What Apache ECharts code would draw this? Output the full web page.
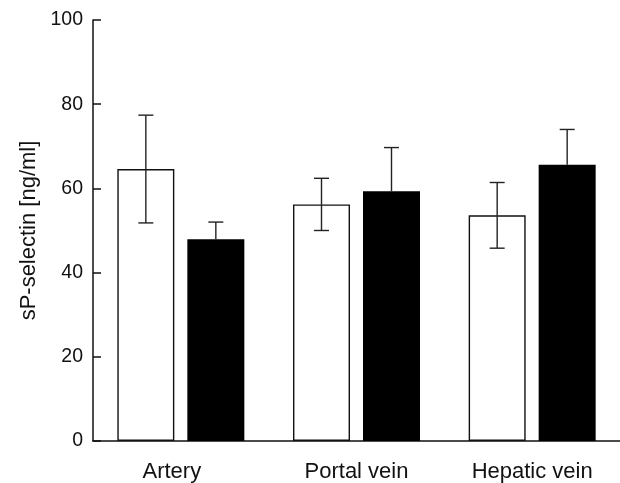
<!DOCTYPE html>
<html>
<head>
<meta charset="utf-8">
<script src="https://cdn.jsdelivr.net/npm/echarts@6/dist/echarts.min.js"></script>
<style>html,body{margin:0;padding:0;background:#fff}#c{width:620px;height:483px}</style>
</head>
<body>
<div id="c"></div>
<script>
var categories = ['Artery', 'Portal vein', 'Hepatic vein'];
var openValues = [64.6, 56.2, 53.6];
var openSD = [12.8, 6.2, 7.8];
var filledValues = [47.9, 59.3, 65.6];
var filledSD = [4.1, 10.4, 8.4];
var yTicks = [0, 20, 40, 60, 80, 100];

var BAR_W = 57, GAP = 13, CAP = 15;
var OFFSET = (BAR_W + GAP) / 2;
var FONT = 'Liberation Sans, Arial, Helvetica, sans-serif';

function errData(vals, sds) {
  return vals.map(function (v, i) { return [i, v, v + sds[i], v - sds[i]]; });
}

function errRender(side, drawLower) {
  return function (params, api) {
    var i = api.value(0);
    var top = api.coord([i, api.value(2)]);
    var mid = api.coord([i, api.value(1)]);
    var low = api.coord([i, api.value(3)]);
    var x = top[0] + side * OFFSET;
    var st = { stroke: '#222', lineWidth: 1.4 };
    var ch = [
      { type: 'line', shape: { x1: x, y1: top[1], x2: x, y2: drawLower ? low[1] : mid[1] }, style: st },
      { type: 'line', shape: { x1: x - CAP / 2, y1: top[1], x2: x + CAP / 2, y2: top[1] }, style: st }
    ];
    if (drawLower) {
      ch.push({ type: 'line', shape: { x1: x - CAP / 2, y1: low[1], x2: x + CAP / 2, y2: low[1] }, style: st });
    }
    return { type: 'group', children: ch };
  };
}

var chart = echarts.init(document.getElementById('c'), null, { renderer: 'canvas' });
chart.setOption({
  animation: false,
  backgroundColor: '#fff',
  grid: { left: 93, right: 0, top: 20, bottom: 41 },
  xAxis: {
    type: 'category',
    data: categories,
    axisLine: { show: true, lineStyle: { color: '#111', width: 1.5 } },
    axisTick: { show: false },
    axisLabel: {
      color: '#111', fontSize: 22, fontFamily: FONT, margin: 20,
      formatter: function (v) { return v === categories[0] ? '{a|' + v + '}' : v; },
      rich: { a: { fontSize: 22, fontFamily: FONT, color: '#111', padding: [0, 18, 0, 0] } }
    }
  },
  yAxis: {
    type: 'value',
    min: yTicks[0],
    max: yTicks[yTicks.length - 1],
    interval: 20,
    name: 'sP-selectin [ng/ml]',
    nameLocation: 'middle',
    nameGap: 53,
    nameTextStyle: { color: '#111', fontSize: 22, fontFamily: FONT },
    axisLine: { show: true, lineStyle: { color: '#111', width: 1.5 } },
    axisTick: { show: true, inside: true, length: 8, lineStyle: { color: '#111', width: 1.5 } },
    splitLine: { show: false },
    axisLabel: { color: '#111', fontSize: 19.5, fontFamily: FONT, margin: 10 }
  },
  series: [
    {
      name: 'Open', type: 'bar', data: openValues, barWidth: BAR_W, barGap: (GAP / BAR_W * 100) + '%',
      itemStyle: { color: '#fff', borderColor: '#111', borderWidth: 1.4 }
    },
    {
      name: 'Filled', type: 'bar', data: filledValues, barWidth: BAR_W,
      itemStyle: { color: '#000', borderColor: '#000', borderWidth: 0 }
    },
    {
      type: 'custom', data: errData(openValues, openSD), renderItem: errRender(-1, true),
      encode: { x: 0, y: [1, 2, 3] }, z: 5
    },
    {
      type: 'custom', data: errData(filledValues, filledSD), renderItem: errRender(1, false),
      encode: { x: 0, y: [1, 2, 3] }, z: 5
    }
  ]
});
</script>
</body>
</html>
